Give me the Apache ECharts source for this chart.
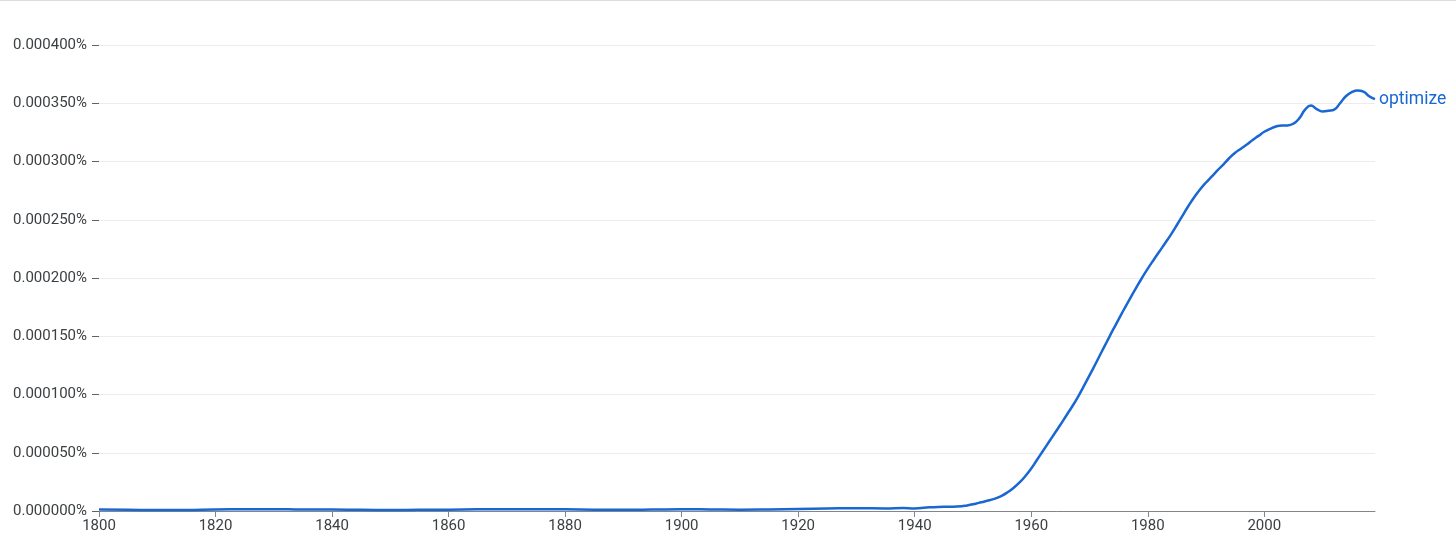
<!DOCTYPE html>
<html>
<head>
<meta charset="utf-8">
<script src="https://cdn.jsdelivr.net/npm/echarts@6/dist/echarts.min.js"></script>
<style>
html,body{margin:0;padding:0;background:#fff;}
#top{height:1px;background:#dadce0;width:1456px;}
#chart{width:1456px;height:544px;}
</style>
</head>
<body>
<div id="top"></div>
<div id="chart"></div>
<script>
const seriesName = 'optimize';
const years = [1800,1805,1810,1815,1820,1825,1830,1835,1840,1845,1850,1855,1860,1865,1870,1875,1880,1885,1890,1895,1900,1905,1910,1915,1920,1925,1930,1935,1938,1940,1942,1944,1946,1948,
1949,1950,1951,1952,1953,1954,1955,1956,1957,1958,1959,1960,1961,1962,1963,1964,1965,1966,1967,1968,1969,1970,1971,1972,1973,1974,1975,1976,1977,1978,1979,1980,1981,1982,1983,1984,1985,1986,1987,1988,1989,1990,1991,1992,1993,1994,1995,1996,1997,1998,1999,2000,2001,2002,2003,2004,2005,2006,2007,2008,2009,2010,2011,2012,2013,2014,2015,2016,2017,2018,2019];
const values = [0.0000012,0.0000010,0.0000008,0.0000009,0.0000013,0.0000015,0.0000016,0.0000012,0.0000013,0.0000010,0.0000009,0.0000010,0.0000011,0.0000014,0.0000015,0.0000016,0.0000014,0.0000011,0.0000010,0.0000012,0.0000015,0.0000013,0.0000011,0.0000013,0.0000017,0.0000021,0.0000024,0.0000022,0.0000025,0.0000022,0.0000030,0.0000035,0.0000036,0.0000040,
0.0000048,0.0000058,0.0000070,0.0000082,0.0000095,0.0000110,0.0000132,0.0000163,0.0000200,0.0000245,0.0000300,0.0000365,0.0000440,0.0000515,0.0000590,0.0000665,0.0000740,0.0000818,0.0000895,0.0000978,0.0001070,0.0001164,0.0001260,0.0001358,0.0001455,0.0001552,0.0001645,0.0001738,0.0001828,0.0001915,0.0002000,0.0002080,0.0002155,0.0002228,0.0002300,0.0002375,0.0002455,0.0002538,0.0002620,0.0002695,0.0002762,0.0002820,0.0002872,0.0002925,0.0002975,0.0003030,0.0003075,0.0003110,0.0003145,0.0003185,0.0003220,0.0003255,0.0003280,0.0003300,0.0003310,0.0003310,0.0003325,0.0003370,0.0003445,0.0003480,0.0003450,0.0003430,0.0003435,0.0003445,0.0003500,0.0003560,0.0003595,0.0003610,0.0003600,0.0003560,0.0003535];
const xTicks = [1800,1820,1840,1860,1880,1900,1920,1940,1960,1980,2000];
const yTicks = [0,0.00005,0.0001,0.00015,0.0002,0.00025,0.0003,0.00035,0.0004];

const chart = echarts.init(document.getElementById('chart'));
const data = years.map((y,i)=>[y, values[i]]);
chart.setOption({
  animation:false,
  textStyle:{fontFamily:'Roboto'},
  grid:{left:99,right:81,top:44,bottom:34},
  xAxis:{
    type:'value', min:1800, max:2019, interval:20,
    axisLine:{lineStyle:{color:'#80868b',width:1}},
    axisTick:{show:true,length:6,lineStyle:{color:'#80868b'},customValues:xTicks},
    axisLabel:{color:'#3c4043',fontSize:15,margin:8,customValues:xTicks,formatter:v=>String(v)},
    splitLine:{show:false}
  },
  yAxis:{
    type:'value', min:0, max:0.0004, interval:0.00005,
    axisLine:{show:false},
    axisTick:{show:true,length:7,lineStyle:{color:'#5f6368'}},
    axisLabel:{color:'#3c4043',fontSize:15,margin:12,formatter:v=>v.toFixed(6)+'%'},
    splitLine:{lineStyle:{color:'#ececec',width:1}}
  },
  series:[{
    name:seriesName,
    type:'line',
    data:data,
    smooth:true,
    showSymbol:false,
    lineStyle:{color:'#1967d2',width:2.5},
    itemStyle:{color:'#1967d2'},
    endLabel:{show:true,formatter:seriesName,color:'#1967d2',fontSize:17.5,distance:4,fontFamily:'Roboto'}
  }]
});
</script>
</body>
</html>
